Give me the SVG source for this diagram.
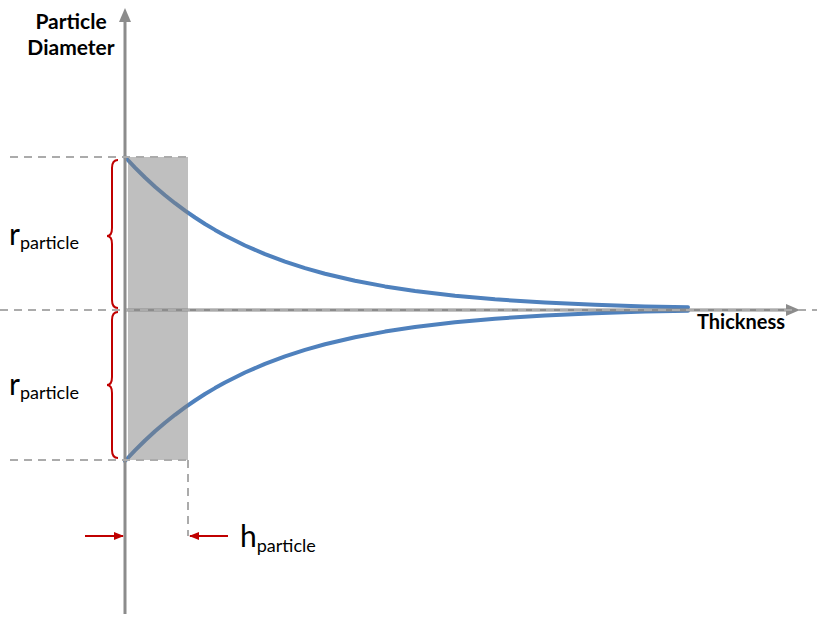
<svg xmlns="http://www.w3.org/2000/svg" width="817" height="618" viewBox="0 0 817 618">
<style>
.axis{stroke:#8c8c8c;stroke-width:3;fill:none}
.dash{stroke:#ababab;stroke-width:2;stroke-dasharray:8 6;fill:none}
.curve{stroke:#4f81bd;stroke-width:4;fill:none;stroke-linecap:round;stroke-linejoin:round}
.brace{stroke:#c00000;stroke-width:2;fill:none}
.red{stroke:#c00000;stroke-width:2;fill:none}
.lbl{font-family:Lato,"Liberation Sans",sans-serif;fill:#000}
.bold{font-family:Lato,"Liberation Sans",sans-serif;font-weight:bold;fill:#000}
</style>
<defs>
<marker id="ah" markerWidth="10" markerHeight="8" refX="9" refY="4" orient="auto" markerUnits="userSpaceOnUse">
<path d="M0,0 L10,4 L0,8 Z" fill="#c00000"/>
</marker>
</defs>
<rect width="817" height="618" fill="#fff"/>
<g id="connectors">
<polyline class="curve" points="125,157 135,167.6 145,177.5 155,186.7 165,195.3 175,203.2 185,210.6 195,217.5 205,224 215,229.9 225,235.5 245,245.5 265,254.1 285,261.6 305,268.1 325,273.7 355,280.8 385,286.4 415,291 455,295.8 495,299.3 545,302.5 595,304.8 645,306.4 688,307.3"/>
<polyline class="curve" points="125,461 135,450.4 145,440.5 155,431.3 165,422.7 175,414.8 185,407.4 195,400.5 205,394 215,388.1 225,382.5 245,372.5 265,363.9 285,356.4 305,349.9 325,344.3 355,337.2 385,331.6 415,327 455,322.2 495,318.7 545,315.5 595,313.2 645,311.6 688,310.7"/>
<rect id="band" x="128" y="157" width="60" height="303" fill="#808080" fill-opacity="0.5"/>
<line class="axis" x1="125" y1="20" x2="125" y2="614"/>
<path d="M125,8 L131,22 L119,22 Z" fill="#8c8c8c"/>
<line class="axis" x1="125" y1="310" x2="788" y2="310"/>
<path d="M800,310 L786,304 L786,316 Z" fill="#8c8c8c"/>
<line class="dash" x1="0" y1="310" x2="817" y2="310"/>
<line class="dash" x1="10" y1="157" x2="188" y2="157"/>
<line class="dash" x1="10" y1="460" x2="188" y2="460"/>
<line class="dash" x1="188" y1="460" x2="188" y2="536"/>
<path class="brace" d="M118,160 Q112,160 112,168 L112,228 Q112,236 107,236 Q112,236 112,244 L112,300 Q112,308 118,308"/>
<path class="brace" d="M118,312 Q112,312 112,320 L112,377 Q112,385 107,385 Q112,385 112,393 L112,450 Q112,458 118,458"/>
<line class="red" x1="85" y1="536" x2="123" y2="536" marker-end="url(#ah)"/>
<line class="red" x1="228" y1="536" x2="190" y2="536" marker-end="url(#ah)"/>
</g>
<g id="label-y">
<text class="bold" x="71" y="29" font-size="21" text-anchor="middle">Particle</text>
<text class="bold" x="71" y="55" font-size="21" text-anchor="middle">Diameter</text>
</g>
<g id="label-x">
<text class="bold" x="697" y="329" font-size="20">Thickness</text>
</g>
<g id="label-r1">
<text class="lbl" x="9" y="245" font-size="30">r<tspan font-size="18" dy="4">particle</tspan></text>
</g>
<g id="label-r2">
<text class="lbl" x="9" y="395" font-size="30">r<tspan font-size="18" dy="4">particle</tspan></text>
</g>
<g id="label-h">
<text class="lbl" x="240" y="547" font-size="30">h<tspan font-size="18" dy="5">particle</tspan></text>
</g>
</svg>
